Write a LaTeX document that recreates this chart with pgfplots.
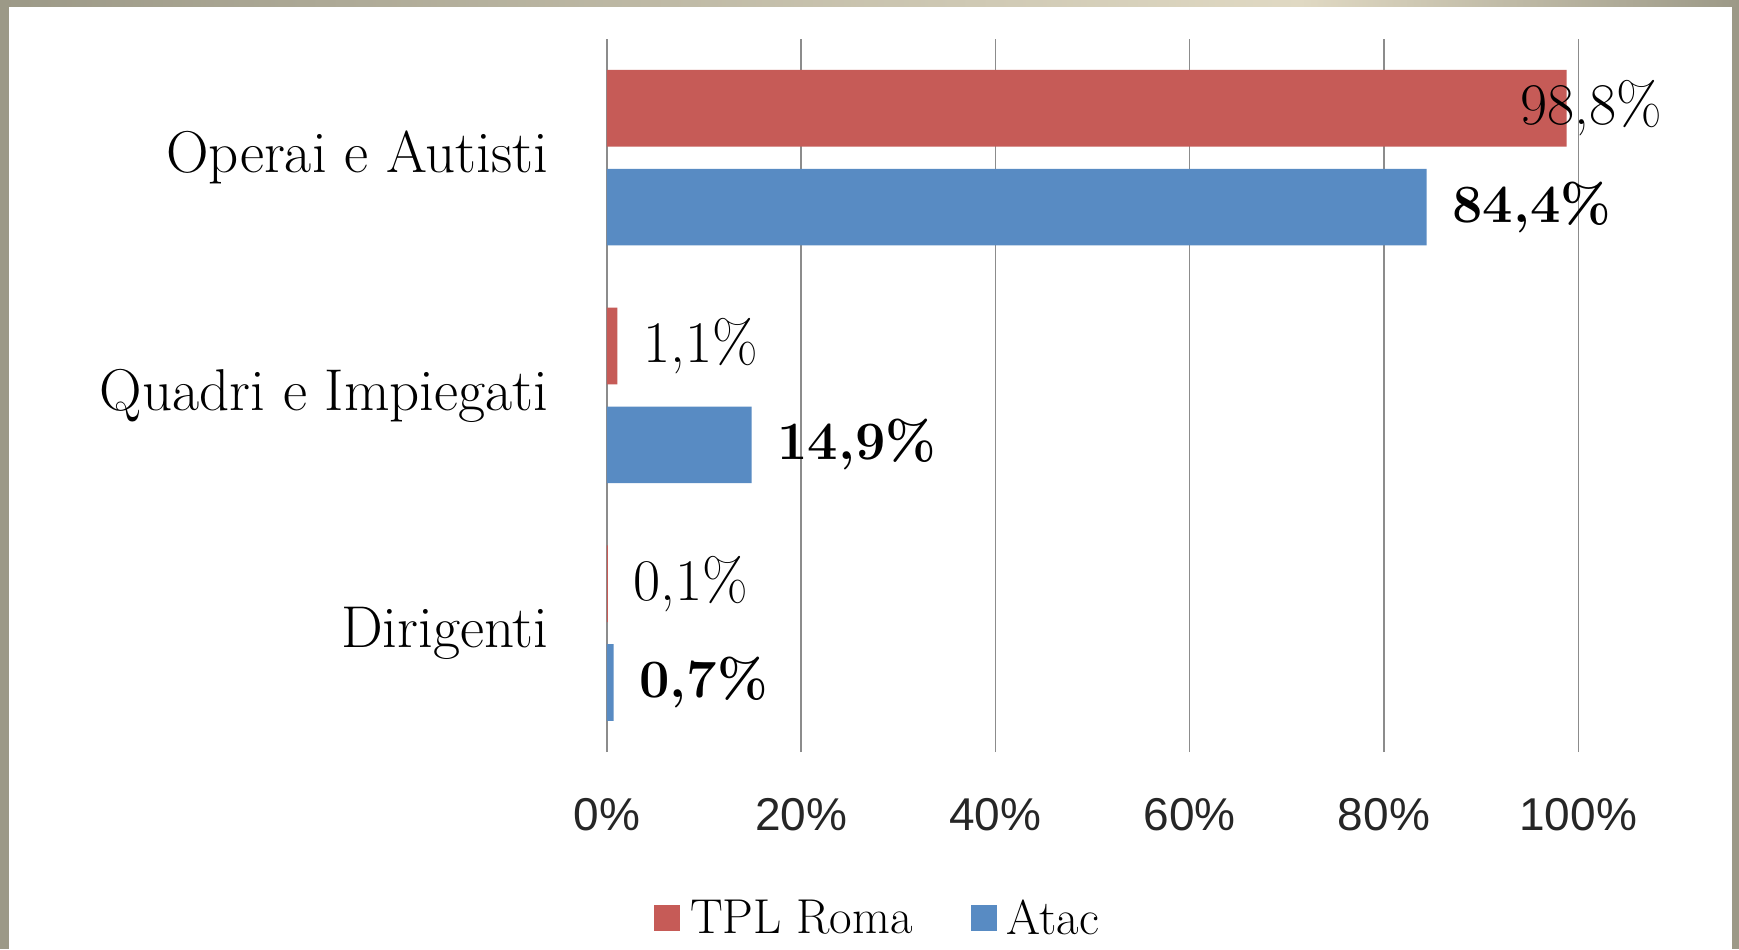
\documentclass[border=0pt]{standalone}
\usepackage{fontspec}
\usepackage{pgfplots}
\pgfplotsset{compat=1.18}
\newfontfamily\tickfont{Liberation Sans}
\definecolor{tplred}{HTML}{C65B57}
\definecolor{atacblue}{HTML}{588BC3}
\definecolor{framegray}{HTML}{9C9987}
\definecolor{framebeige}{HTML}{E0D9C3}
\definecolor{gridgray}{HTML}{8C8C8C}
\newcommand{\vallab}{\fontsize{29.5}{29.5}\selectfont}
\newcommand{\vallabb}{\fontsize{27}{27}\selectfont\bfseries}
\begin{document}
\begin{tikzpicture}
\fill[white] (0,0) rectangle (869.5pt,474.5pt);
\fill[framegray] (0,0) rectangle (4.5pt,474.5pt);
\fill[framegray] (866pt,0) rectangle (869.5pt,474.5pt);
\shade[left color=framegray, right color=framebeige] (0,471pt) rectangle (650pt,474.5pt);
\shade[left color=framebeige, right color=framegray] (650pt,471pt) rectangle (869.5pt,474.5pt);
\begin{axis}[
  at={(303.4pt,98.5pt)}, anchor=south west,
  width=485.7pt, height=356.6pt, scale only axis,
  clip=false,
  xbar, bar width=38.3pt,
  xmin=0, xmax=100, ymin=-0.5, ymax=2.5,
  ytick={0,1,2},
  yticklabels={Dirigenti, Quadri e Impiegati, Operai e Autisti},
  xtick={0,20,40,60,80,100},
  xticklabels={0\%,20\%,40\%,60\%,80\%,100\%},
  xmajorgrids, grid style={gridgray, line width=0.7pt},
  axis line style={draw=none},
  major tick length=0pt,
  yticklabel style={font=\fontsize{29.5}{29.5}\selectfont, inner sep=0pt, anchor=east, xshift=-29pt},
  xticklabel style={font=\tickfont\fontsize{23}{23}\selectfont, text=black!85, inner sep=0pt, anchor=north, yshift=-23pt},
  legend style={at={(0.283,-0.233)}, anchor=center, draw=none, fill=none,
    font=\fontsize{24.5}{24.5}\selectfont, legend columns=2,
    /tikz/every even column/.append style={column sep=24pt},
    nodes={inner xsep=5pt}},
  legend image code/.code={\fill[#1] (0pt,-6.5pt) rectangle (13pt,6.5pt);},
]
\addplot[fill=tplred, draw=none, bar shift=24.7pt] coordinates {(0.1,0) (1.1,1) (98.8,2)};
\addlegendentry{TPL Roma}
\addplot[fill=atacblue, draw=none, bar shift=-24.7pt] coordinates {(0.7,0) (14.9,1) (84.4,2)};
\addlegendentry{Atac}
\node[anchor=west, inner sep=0pt, font=\vallab, yshift=24.7pt] at (axis cs:94.0,2) {98,8\%};
\node[anchor=west, inner sep=0pt, font=\vallab, yshift=24.7pt, xshift=12.75pt] at (axis cs:1.1,1) {1,1\%};
\node[anchor=west, inner sep=0pt, font=\vallab, yshift=24.7pt, xshift=12.75pt] at (axis cs:0.1,0) {0,1\%};
\node[anchor=west, inner sep=0pt, font=\vallabb, yshift=-24.7pt, xshift=12.75pt] at (axis cs:84.4,2) {84,4\%};
\node[anchor=west, inner sep=0pt, font=\vallabb, yshift=-24.7pt, xshift=12.75pt] at (axis cs:14.9,1) {14,9\%};
\node[anchor=west, inner sep=0pt, font=\vallabb, yshift=-24.7pt, xshift=12.75pt] at (axis cs:0.7,0) {0,7\%};
\end{axis}
\pgfresetboundingbox
\path (0,0) rectangle (869.5pt,474.5pt);
\end{tikzpicture}
\end{document}
